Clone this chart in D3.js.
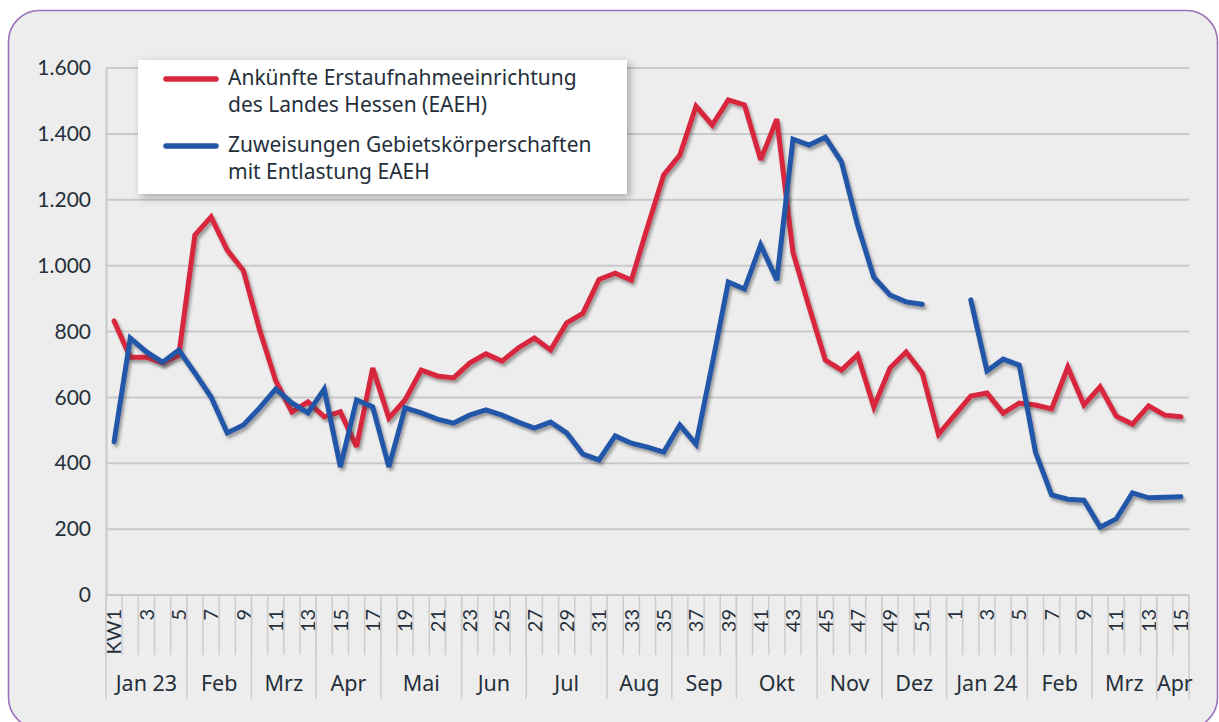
<!DOCTYPE html>
<html><head><meta charset="utf-8">
<script src="https://cdn.jsdelivr.net/npm/d3@7"></script>
<style>
html,body{margin:0;padding:0;background:#fff;}
svg{display:block;font-family:"Noto Sans",Lato,sans-serif;}
</style></head>
<body>
<svg id="c" width="1219" height="722"></svg>
<script>
// Week labels (odd weeks only shown)
const weeks = ["KW1","2","3","4","5","6","7","8","9","10","11","12","13","14","15","16","17","18","19","20","21","22","23","24","25","26","27","28","29","30","31","32","33","34","35","36","37","38","39","40","41","42","43","44","45","46","47","48","49","50","51","52",
  "1","2","3","4","5","6","7","8","9","10","11","12","13","14","15"];
const months = ["Jan 23","Feb","Mrz","Apr","Mai","Jun","Jul","Aug","Sep","Okt","Nov","Dez","Jan 24","Feb","Mrz","Apr"];
const monthWeekCounts = [5,4,4,4,5,4,5,4,4,5,4,4,5,4,4,2];
const yTicks = [0,200,400,600,800,1000,1200,1400,1600];

const seriesNames = ["Ankünfte Erstaufnahmeeinrichtung|des Landes Hessen (EAEH)", "Zuweisungen Gebietskörperschaften|mit Entlastung EAEH"];
const ankuenfte = [832,722,722,705,728,1093,1148,1047,985,805,650,556,586,541,556,450,689,537,592,
  683,665,659,704,732,710,750,780,744,826,855,958,977,956,1117,1275,1336,1484,1427,1503,1488,1321,1445,1040,874,713,683,729,571,689,738,674,488,
  546,604,613,552,583,577,565,692,577,632,543,519,574,546,541];
const zuweisungen = [465,780,738,707,744,674,601,492,516,568,625,583,553,625,389,592,571,389,568,
  553,534,522,546,562,546,525,507,525,492,428,410,483,461,449,434,516,458,700,950,929,1063,956,1384,1366,1390,1315,1123,965,911,890,883,null,
  null,896,680,716,698,434,304,291,288,206,231,310,295,297,298];

const colors = ["#d7263d","#2457a8"];
const textColor = "#25303b";

const svg = d3.select("#c");
const defs = svg.append("defs");
const f1 = defs.append("filter").attr("id","lineShadow").attr("x","-5%").attr("y","-5%").attr("width","110%").attr("height","115%");
f1.append("feDropShadow").attr("dx",2).attr("dy",3).attr("stdDeviation",1.6).attr("flood-color","#333").attr("flood-opacity",0.45);
const f2 = defs.append("filter").attr("id","boxShadow").attr("x","-10%").attr("y","-20%").attr("width","125%").attr("height","150%");
f2.append("feDropShadow").attr("dx",3).attr("dy",3).attr("stdDeviation",4).attr("flood-color","#000").attr("flood-opacity",0.3);

// card
svg.append("rect").attr("x",8.5).attr("y",10.5).attr("width",1209).attr("height",718).attr("rx",31)
  .attr("fill","#ededed").attr("stroke","#9b72bb").attr("stroke-width",1.6);

const pLeft = 106, pRight = 1189, pTop = 68, pBottom = 595;
const x = d3.scaleBand().domain(d3.range(weeks.length)).range([pLeft,pRight]).padding(0);
const y = d3.scaleLinear().domain([0,1600]).range([pBottom,pTop]);
const loc = d3.formatLocale({decimal:",",thousands:".",grouping:[3],currency:["","€"]});
const fmt = loc.format(",d");

// gridlines
svg.append("g").selectAll("line").data(yTicks.filter(d=>d>0)).join("line")
  .attr("x1",pLeft).attr("x2",pRight).attr("y1",d=>y(d)).attr("y2",d=>y(d))
  .attr("stroke","#c9c9c9").attr("stroke-width",2);

// y axis
const yAxis = svg.append("g").attr("transform",`translate(${pLeft},0)`)
  .call(d3.axisLeft(y).tickValues(yTicks).tickFormat(fmt).tickSize(0).tickPadding(15));
yAxis.select(".domain").attr("stroke","#c9c9c9").attr("stroke-width",2);
yAxis.selectAll("text").attr("font-size",21).attr("fill",textColor).attr("font-family","Lato");

// x axis line
svg.append("line").attr("x1",pLeft).attr("x2",pRight).attr("y1",pBottom).attr("y2",pBottom).attr("stroke","#c9c9c9").attr("stroke-width",2);

// week tick separators
const bounds = d3.range(weeks.length+1).map(i => i<weeks.length ? x(i) : x(weeks.length-1)+x.bandwidth());
svg.append("g").selectAll("line").data(bounds).join("line")
  .attr("x1",d=>d).attr("x2",d=>d).attr("y1",pBottom).attr("y2",655)
  .attr("stroke","#cdcdcd").attr("stroke-width",1.5);

// week labels
const xAxis = svg.append("g").attr("transform",`translate(0,${pBottom})`)
  .call(d3.axisBottom(x).tickSize(0).tickFormat(i => i%2===0 ? weeks[i] : ""));
xAxis.select(".domain").remove();
xAxis.selectAll("text").attr("font-size",20).attr("fill",textColor).attr("font-family","Lato")
  .attr("transform","rotate(-90)").attr("text-anchor","end")
  .attr("x",-14).attr("y",0).attr("dy","0.36em");

// month groups
let acc = 0;
const monthData = months.map((m,i)=>{const s=acc; acc+=monthWeekCounts[i]; return {m, s, e:acc};});
svg.append("g").selectAll("line").data([0].concat(monthData.map(d=>d.e))).join("line")
  .attr("x1",d=>bounds[d]).attr("x2",d=>bounds[d]).attr("y1",pBottom).attr("y2",699)
  .attr("stroke","#cdcdcd").attr("stroke-width",1.5);
svg.append("g").selectAll("text").data(monthData).join("text")
  .attr("x",d=>(bounds[d.s]+bounds[d.e])/2 + (d.e===weeks.length?2:0)).attr("y",691)
  .attr("text-anchor","middle").attr("font-size",21.5).attr("fill",textColor).text(d=>d.m);

// lines
const line = d3.line().defined(d=>d!=null).x((d,i)=>x(i)+x.bandwidth()/2).y(d=>y(d)).curve(d3.curveLinear);
[ankuenfte, zuweisungen].forEach((s,k)=>{
  svg.append("path").datum(s).attr("d",line).attr("fill","none")
    .attr("stroke",colors[k]).attr("stroke-width",5).attr("stroke-linejoin","miter").attr("stroke-miterlimit",3)
    .attr("stroke-linecap","round").attr("filter","url(#lineShadow)");
});

// legend
const lg = svg.append("g");
lg.append("rect").attr("x",138).attr("y",60).attr("width",489).attr("height",134).attr("fill","#fff").attr("filter","url(#boxShadow)");
seriesNames.forEach((n,k)=>{
  const ly = 79 + k*67;
  lg.append("line").attr("x1",166).attr("x2",216).attr("y1",ly).attr("y2",ly)
    .attr("stroke",colors[k]).attr("stroke-width",5.5).attr("stroke-linecap","round");
  const parts = n.split("|");
  parts.forEach((p,j)=>{
    lg.append("text").attr("x",228).attr("y",ly+6+j*27).attr("font-size",21).attr("fill",textColor).text(p);
  });
});
</script>
</body></html>
